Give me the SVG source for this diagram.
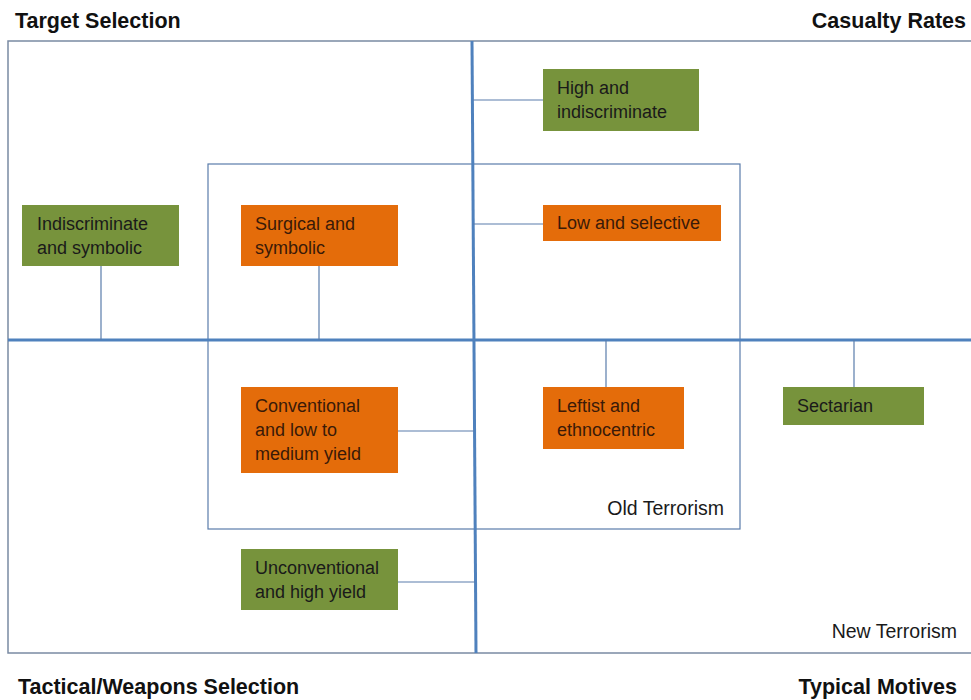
<svg xmlns="http://www.w3.org/2000/svg" width="971" height="700" viewBox="0 0 971 700">
<style>
.title{font-family:"Liberation Sans",Arial,sans-serif;font-weight:bold;font-size:21.5px;fill:#111}
.lbl{font-family:"Liberation Sans",Arial,sans-serif;font-size:18px;fill:#1a1a1a}
.lbo{font-family:"Liberation Sans",Arial,sans-serif;font-size:18px;fill:#3a1a08}
.big{font-family:"Liberation Sans",Arial,sans-serif;font-size:19.5px;fill:#1a1a1a}
.g{fill:#77933c}
.o{fill:#e46c0a}
.thin{stroke:#5a7cab;stroke-width:1.2;fill:none}
.axis{stroke:#4f81bd;stroke-width:3;fill:none}
</style>
<rect x="0" y="0" width="971" height="700" fill="#fff"/>
<g id="frame">
<rect x="8" y="41" width="964" height="612" fill="none" stroke="#7a8aa3" stroke-width="1.5"/>
<rect id="old-terrorism" x="208" y="164" width="532" height="365" class="thin"/>
</g>
<g id="connectors">
<line x1="472" y1="41" x2="476" y2="653" class="axis"/>
<line x1="8" y1="340" x2="971" y2="340" class="axis"/>
<line x1="101" y1="266" x2="101" y2="340" class="thin"/>
<line x1="319" y1="266" x2="319" y2="340" class="thin"/>
<line x1="473" y1="100" x2="543" y2="100" class="thin"/>
<line x1="473" y1="224" x2="543" y2="224" class="thin"/>
<line x1="398" y1="431" x2="474" y2="431" class="thin"/>
<line x1="606" y1="340" x2="606" y2="387" class="thin"/>
<line x1="854" y1="340" x2="854" y2="387" class="thin"/>
<line x1="398" y1="582" x2="475" y2="582" class="thin"/>
</g>
<g id="n-indiscriminate">
<rect x="22" y="205" width="157" height="61" class="g"/>
<text class="lbl" x="37" y="230">Indiscriminate</text>
<text class="lbl" x="37" y="254">and symbolic</text>
</g>
<g id="n-surgical">
<rect x="241" y="205" width="157" height="61" class="o"/>
<text class="lbo" x="255" y="230">Surgical and</text>
<text class="lbo" x="255" y="254">symbolic</text>
</g>
<g id="n-high">
<rect x="543" y="69" width="156" height="62" class="g"/>
<text class="lbl" x="557" y="94">High and</text>
<text class="lbl" x="557" y="118">indiscriminate</text>
</g>
<g id="n-low">
<rect x="543" y="205" width="178" height="36" class="o"/>
<text class="lbo" x="557" y="229">Low and selective</text>
</g>
<g id="n-conventional">
<rect x="241" y="387" width="157" height="86" class="o"/>
<text class="lbo" x="255" y="412">Conventional</text>
<text class="lbo" x="255" y="436">and low to</text>
<text class="lbo" x="255" y="460">medium yield</text>
</g>
<g id="n-leftist">
<rect x="543" y="387" width="141" height="62" class="o"/>
<text class="lbo" x="557" y="412">Leftist and</text>
<text class="lbo" x="557" y="436">ethnocentric</text>
</g>
<g id="n-sectarian">
<rect x="783" y="387" width="141" height="38" class="g"/>
<text class="lbl" x="797" y="412">Sectarian</text>
</g>
<g id="n-unconventional">
<rect x="241" y="549" width="157" height="61" class="g"/>
<text class="lbl" x="255" y="574">Unconventional</text>
<text class="lbl" x="255" y="598">and high yield</text>
</g>
<g id="labels">
<text class="big" x="724" y="515" text-anchor="end">Old Terrorism</text>
<text class="big" x="957" y="638" text-anchor="end">New Terrorism</text>
<text class="title" x="15" y="28">Target Selection</text>
<text class="title" x="966" y="28" text-anchor="end">Casualty Rates</text>
<text class="title" x="18" y="694">Tactical/Weapons Selection</text>
<text class="title" x="957" y="694" text-anchor="end">Typical Motives</text>
</g>
</svg>
